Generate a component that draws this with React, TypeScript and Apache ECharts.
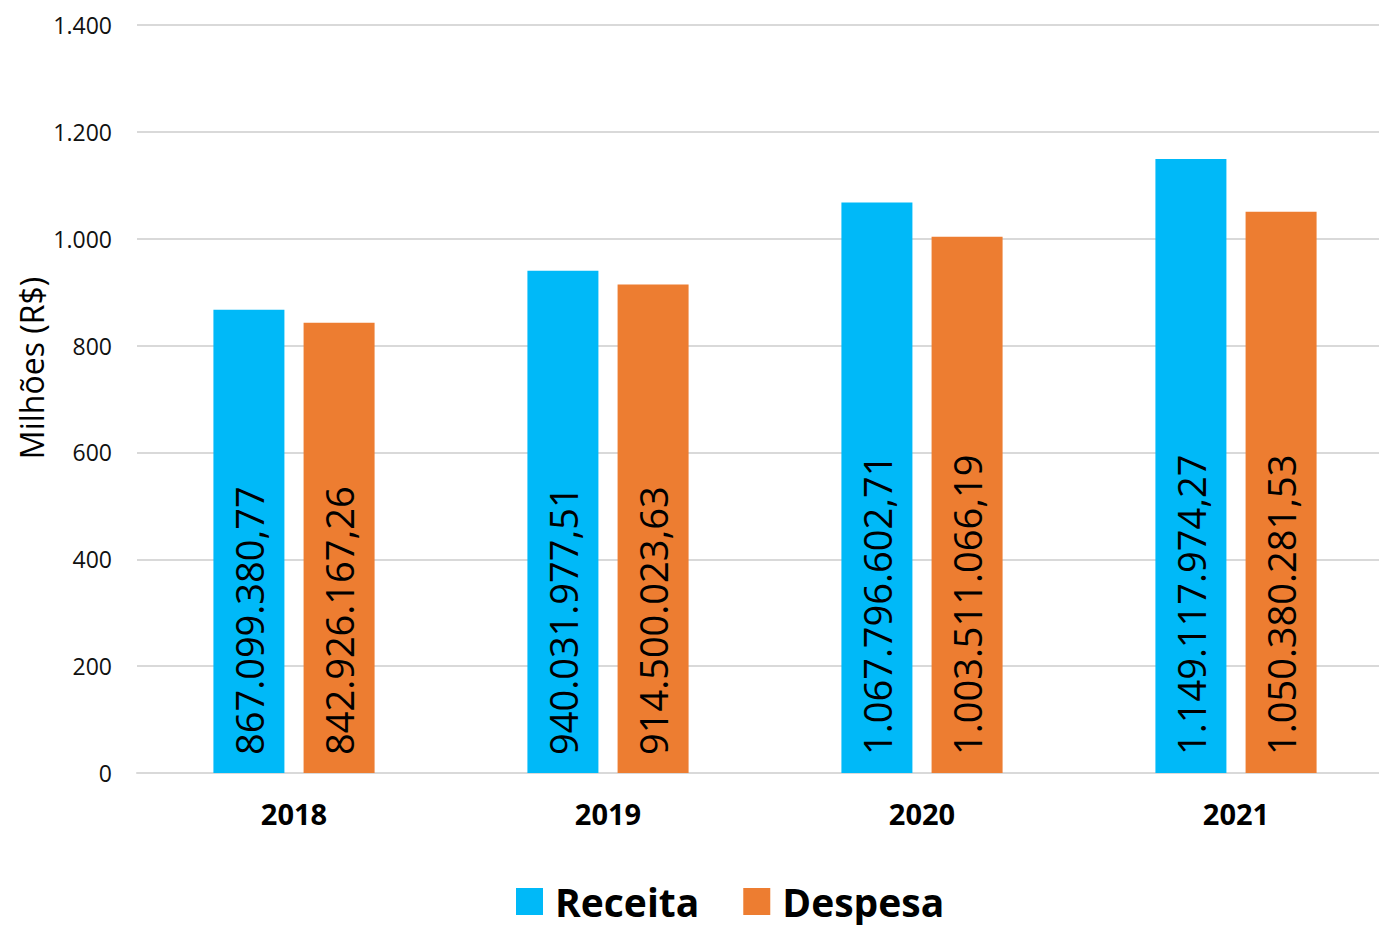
import React, { useEffect, useRef } from "react";
import * as echarts from "echarts";

const categories = ["2018", "2019", "2020", "2021"];
const receitaReais = [867099380.77, 940031977.51, 1067796602.71, 1149117974.27];
const despesaReais = [842926167.26, 914500023.63, 1003511066.19, 1050380281.53];
const yTicks = [0, 200, 400, 600, 800, 1000, 1200, 1400];

const FONT = "'Open Sans', 'Noto Sans', sans-serif";

function groupThousands(intStr: string): string {
  return intStr.replace(/\B(?=(\d{3})+(?!\d))/g, ".");
}

function formatBRL(v: number): string {
  const fixed = v.toFixed(2);
  const [i, d] = fixed.split(".");
  return groupThousands(i) + "," + d;
}

export default function App() {
  const ref = useRef<HTMLDivElement>(null);

  useEffect(() => {
    if (!ref.current) return;
    const chart = echarts.init(ref.current, undefined, { renderer: "svg" });

    const labelOpt = {
      show: true,
      position: "insideBottom",
      rotate: 90,
      align: "left",
      verticalAlign: "middle",
      distance: 18,
      fontFamily: FONT,
      fontSize: 38,
      color: "#000",
      formatter: (p: any) => formatBRL(p.data.raw),
    };

    chart.setOption({
      animation: false,
      backgroundColor: "#ffffff",
      textStyle: { fontFamily: FONT },
      grid: { left: 137, right: 0, top: 25, bottom: 152, containLabel: false },
      legend: {
        data: ["Receita", "Despesa"],
        left: 516,
        top: 882,
        padding: 0,
        itemWidth: 27,
        itemHeight: 27,
        itemGap: 44,
        icon: "rect",
        textStyle: {
          fontFamily: FONT,
          fontSize: 39,
          lineHeight: 34,
          fontWeight: "bold",
          color: "#000",
          padding: [0, 0, 0, 7],
        },
      },
      graphic: [
        {
          type: "text",
          x: 31,
          y: 368,
          rotation: Math.PI / 2,
          style: {
            text: "Milhões (R$)",
            fontFamily: FONT,
            fontSize: 32,
            fill: "#000",
            align: "center",
            verticalAlign: "middle",
          },
        },
      ],
      xAxis: {
        type: "category",
        data: categories,
        axisLine: { show: true, lineStyle: { color: "#d9d9d9", width: 2 } },
        axisTick: { show: false },
        axisLabel: {
          margin: 26,
          fontFamily: FONT,
          fontSize: 29,
          fontWeight: "bold",
          color: "#000",
        },
      },
      yAxis: {
        type: "value",
        min: yTicks[0],
        max: yTicks[yTicks.length - 1],
        interval: 200,
        axisLine: { show: false },
        axisTick: { show: false },
        splitLine: { lineStyle: { color: "#d9d9d9", width: 2 } },
        axisLabel: {
          margin: 25,
          fontFamily: FONT,
          fontSize: 23,
          color: "#111",
          formatter: (v: number) => groupThousands(String(v)),
        },
      },
      series: [
        {
          name: "Receita",
          type: "bar",
          barWidth: 71,
          barGap: "27%",
          itemStyle: { color: "#00B9F8" },
          label: labelOpt,
          data: receitaReais.map((r) => ({ value: r / 1e6, raw: r })),
        },
        {
          name: "Despesa",
          type: "bar",
          barWidth: 71,
          itemStyle: { color: "#ED7D31" },
          label: labelOpt,
          data: despesaReais.map((r) => ({ value: r / 1e6, raw: r })),
        },
      ],
    });

    return () => chart.dispose();
  }, []);

  return (
    <div style={{ position: "fixed", left: 0, top: 0, width: 1379, height: 925, overflow: "hidden" }}>
      <div ref={ref} style={{ width: 1393, height: 925 }} />
    </div>
  );
}
